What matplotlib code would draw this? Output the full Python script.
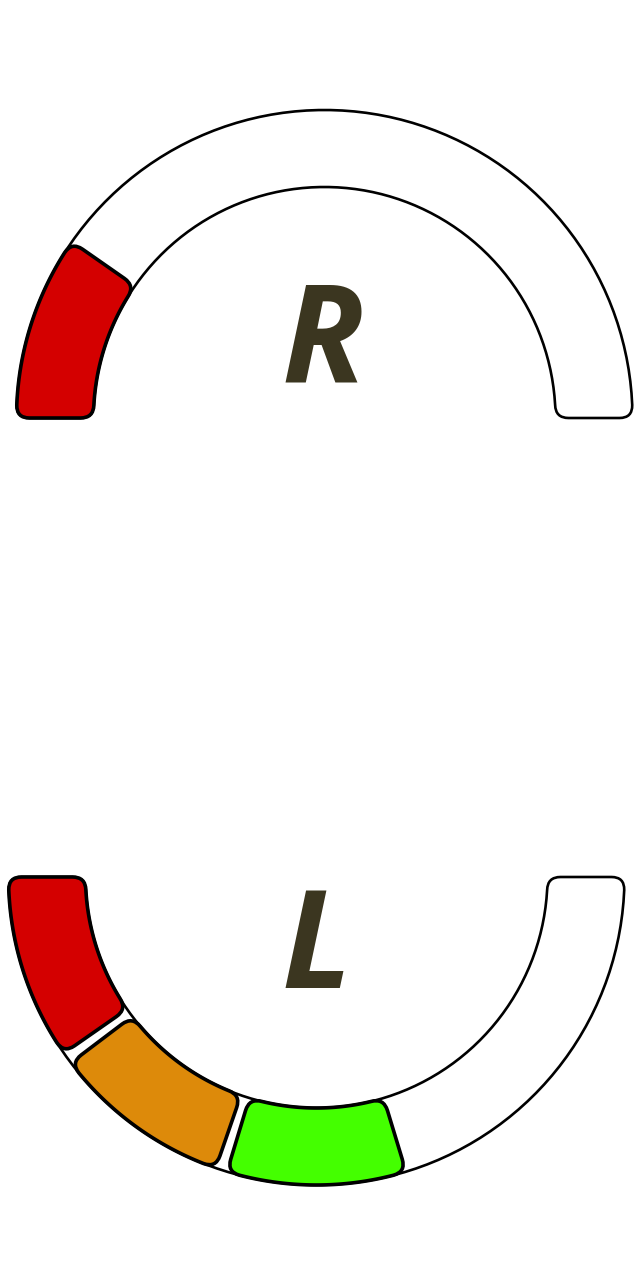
import numpy as np
import matplotlib.pyplot as plt
from matplotlib.path import Path
from matplotlib.patches import PathPatch

# gauge data
labels = ['R', 'L']
levels = [1, 3]            # number of filled segments
n_segments = 5
segment_colors = ['#d40000', '#dd8a0a', '#44ff00', '#ffd000', '#0080ff']
text_color = '#3b3620'

W, H = 640, 1280
R_OUT, R_IN = 308, 231
CORNER = 13


def rounded_sector(cx, cy, r_in, r_out, a0, a1, rc):
    # annular sector from a0 to a1 (degrees, a0 < a1) with rounded corners
    t0, t1 = np.radians(a0), np.radians(a1)
    do, di = rc / r_out, rc / r_in
    pt = lambda r, t: (cx + r * np.cos(t), cy + r * np.sin(t))
    verts, codes = [], []
    ts = np.linspace(t0 + do, t1 - do, 80)
    verts.append(pt(r_out, ts[0])); codes.append(Path.MOVETO)
    for t in ts[1:]:
        verts.append(pt(r_out, t)); codes.append(Path.LINETO)
    verts += [pt(r_out, t1), pt(r_out - rc, t1)]; codes += [Path.CURVE3] * 2
    verts.append(pt(r_in + rc, t1)); codes.append(Path.LINETO)
    verts += [pt(r_in, t1), pt(r_in, t1 - di)]; codes += [Path.CURVE3] * 2
    for t in np.linspace(t1 - di, t0 + di, 80)[1:]:
        verts.append(pt(r_in, t)); codes.append(Path.LINETO)
    verts += [pt(r_in, t0), pt(r_in + rc, t0)]; codes += [Path.CURVE3] * 2
    verts.append(pt(r_out - rc, t0)); codes.append(Path.LINETO)
    verts += [pt(r_out, t0), pt(r_out, t0 + do)]; codes += [Path.CURVE3] * 2
    verts.append(verts[0]); codes.append(Path.CLOSEPOLY)
    return Path(verts, codes)


fig = plt.figure(figsize=(6.4, 12.8), dpi=100)
ax = fig.add_axes([0, 0, 1, 1])
ax.set_xlim(0, W)
ax.set_ylim(0, H)
ax.set_aspect('equal')
ax.axis('off')

# gauge geometry: centre, base angle, direction
gauges = [
    dict(cx=324.5, cy=H - 418, base=0, sign=-1, tx=323, ty=H - 346),
    dict(cx=316.5, cy=H - 877, base=180, sign=1, tx=317, ty=H - 953),
]
step = 180 / n_segments
gap = 1.1

for lab, lev, g in zip(labels, levels, gauges):
    bg = rounded_sector(g['cx'], g['cy'], R_IN, R_OUT, g['base'], g['base'] + 180, CORNER)
    ax.add_patch(PathPatch(bg, facecolor='white', edgecolor='black', lw=1.9))
    for i in range(lev):
        s = 180 + g['sign'] * (i * step + (gap if i > 0 else 0))
        e = 180 + g['sign'] * ((i + 1) * step - gap)
        a0, a1 = min(s, e), max(s, e)
        seg = rounded_sector(g['cx'], g['cy'], R_IN, R_OUT, a0, a1, CORNER)
        ax.add_patch(PathPatch(seg, facecolor=segment_colors[i], edgecolor='black', lw=2.6))
    ax.text(g['tx'], g['ty'], lab, fontsize=98, fontweight='bold', fontstyle='italic',
            family='Open Sans', color=text_color, ha='center', va='center')

fig.savefig('out.png', dpi=100)
